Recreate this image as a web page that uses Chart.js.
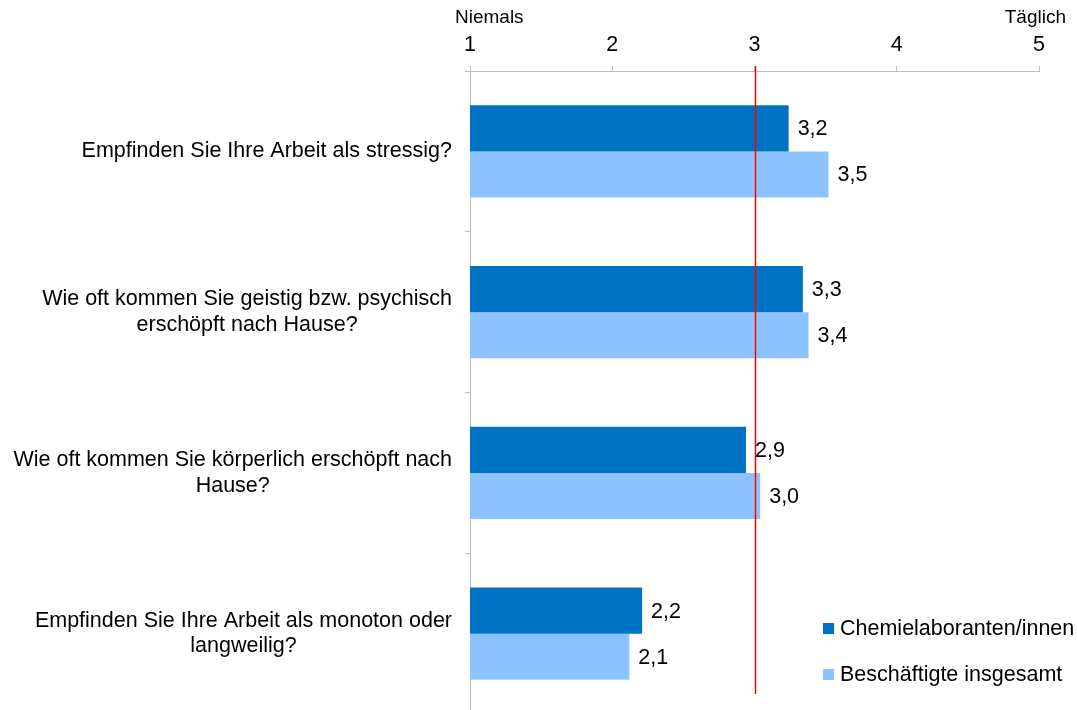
<!DOCTYPE html>
<html>
<head>
<meta charset="utf-8">
<script src="https://cdn.jsdelivr.net/npm/chart.js@4.4.1/dist/chart.umd.min.js"></script>
<style>
  html, body { margin: 0; padding: 0; background: #fff; overflow: hidden; }
  #wrap { width: 1077px; height: 716px; position: relative; }
</style>
</head>
<body>
<div id="wrap"><canvas id="c" width="1077" height="716"></canvas></div>
<script>
// ---- Data ----
const categories = [
  ["Empfinden Sie Ihre Arbeit als stressig?"],
  ["Wie oft kommen Sie geistig bzw. psychisch", "erschöpft nach Hause?"],
  ["Wie oft kommen Sie körperlich erschöpft nach", "Hause?"],
  ["Empfinden Sie Ihre Arbeit als monoton oder", "langweilig?"]
];
const seriesNames = ["Chemielaboranten/innen", "Beschäftigte insgesamt"];
const chemielaboranten = [3.24, 3.34, 2.94, 2.21];
const insgesamt = [3.52, 3.38, 3.04, 2.12];
const xTicks = ["1", "2", "3", "4", "5"];
const scaleEnds = ["Niemals", "Täglich"];
const referenceValue = 3;

const FONT = "'Liberation Sans', Arial, sans-serif";
const GRID = "#BFBFBF";

const overlay = {
  id: 'overlay',
  afterDatasetsDraw(chart) {
    const ctx = chart.ctx;
    const xs = chart.scales.x, ys = chart.scales.y;
    const area = chart.chartArea;
    ctx.save();
    // reference line
    const rx = Math.round(xs.getPixelForValue(referenceValue)) + 0.5;
    ctx.strokeStyle = "#FF0000";
    ctx.lineWidth = 1.5;
    ctx.beginPath();
    ctx.moveTo(rx, area.top - 5);
    ctx.lineTo(rx, area.bottom - 20);
    ctx.stroke();

    // value labels
    ctx.fillStyle = "#000";
    ctx.font = "21.5px " + FONT;
    ctx.textAlign = "left";
    ctx.textBaseline = "middle";
    chart.data.datasets.forEach((ds, di) => {
      const meta = chart.getDatasetMeta(di);
      meta.data.forEach((bar, i) => {
        const txt = ds.data[i].toFixed(1).replace('.', ',');
        ctx.fillText(txt, bar.x + 9, bar.y + 1);
      });
    });

    // category labels (lines centred within a right-aligned block)
    const right = area.left - 18;
    const lh = 25.8;
    categories.forEach((lines, i) => {
      const cy = ys.getPixelForValue(i);
      let maxW = 0;
      lines.forEach(l => { maxW = Math.max(maxW, ctx.measureText(l).width); });
      const cx = right - maxW / 2;
      ctx.textAlign = "center";
      const startY = cy - (lines.length - 1) * lh / 2;
      lines.forEach((l, k) => ctx.fillText(l, cx, startY + k * lh));
    });

    // scale end labels
    ctx.font = "19px " + FONT;
    ctx.textAlign = "left";
    ctx.fillText(scaleEnds[0], xs.getPixelForValue(1) - 15, 18);
    ctx.textAlign = "right";
    ctx.fillText(scaleEnds[1], xs.getPixelForValue(5) + 27, 18);

    // legend
    ctx.font = "21.5px " + FONT;
    ctx.textAlign = "left";
    const lx = 823, ly = [628, 674];
    chart.data.datasets.forEach((ds, di) => {
      ctx.fillStyle = ds.backgroundColor;
      ctx.fillRect(lx, ly[di] - 5, 11, 11);
      ctx.fillStyle = "#000";
      ctx.fillText(ds.label, lx + 17, ly[di] + 1);
    });
    ctx.restore();
  }
};

new Chart(document.getElementById('c'), {
  type: 'bar',
  data: {
    labels: categories,
    datasets: [
      { label: seriesNames[0], data: chemielaboranten, backgroundColor: "#0072C4" },
      { label: seriesNames[1], data: insgesamt, backgroundColor: "#8CC3FE" }
    ]
  },
  options: {
    indexAxis: 'y',
    responsive: false,
    animation: false,
    layout: { padding: { left: 0, right: 38, top: 0, bottom: 2 } },
    datasets: { bar: { categoryPercentage: 0.5725, barPercentage: 1.0, borderWidth: 0 } },
    plugins: { legend: { display: false }, tooltip: { enabled: false } },
    scales: {
      x: {
        position: 'top',
        min: 1, max: 5,
        afterFit(s) { s.height = 71; },
        afterBuildTicks(s) { s.ticks = xTicks.map(t => ({ value: Number(t) })); },
        ticks: {
          stepSize: 1,
          padding: 8,
          color: "#000",
          font: { size: 21.5, family: FONT },
          callback: (v, i) => xTicks[i]
        },
        grid: { drawOnChartArea: false, drawTicks: true, tickLength: 5, color: GRID },
        border: { display: true, color: GRID }
      },
      y: {
        type: 'category',
        offset: true,
        afterFit(s) { s.width = 470; },
        ticks: { display: false },
        grid: { offset: true, drawOnChartArea: false, drawTicks: true, tickLength: 5, color: GRID },
        border: { display: true, color: GRID }
      }
    }
  },
  plugins: [overlay]
});
</script>
</body>
</html>
